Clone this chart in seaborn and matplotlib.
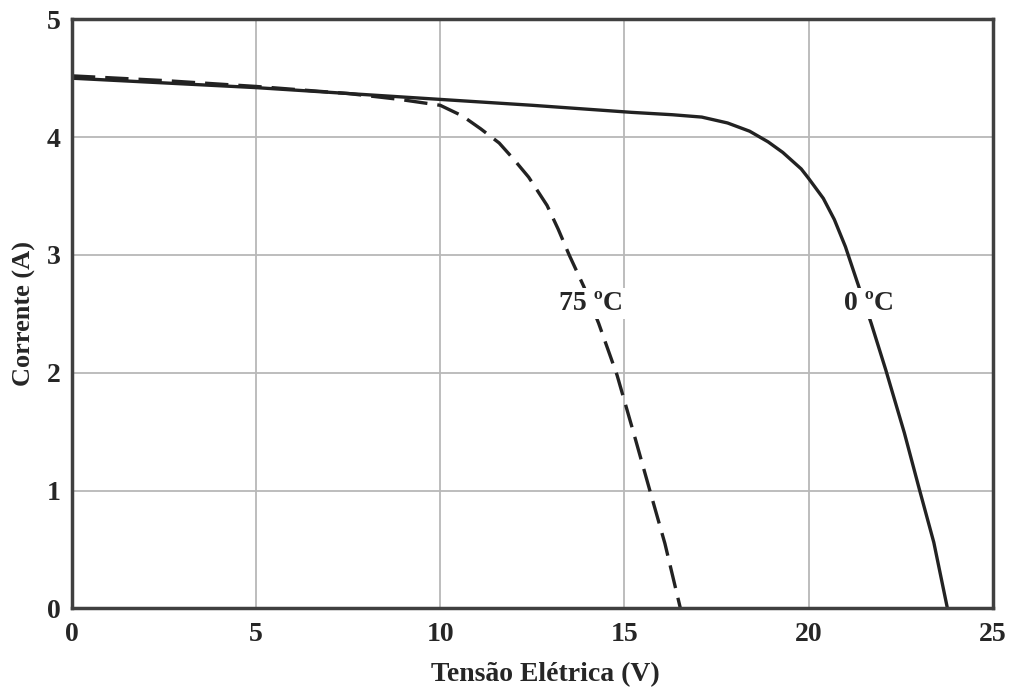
import matplotlib
matplotlib.use("Agg")
import matplotlib.pyplot as plt
import seaborn as sns
import pandas as pd

# 0 °C curve
v_0c = [0, 2.5, 5, 7.5, 10, 12.5, 15.2, 16.3, 17.1, 17.8, 18.4, 18.9, 19.3, 19.8, 20.0, 20.4, 20.7, 21.0, 21.3, 21.7, 22.1, 22.6, 23.0, 23.4, 23.77]
i_0c = [4.50, 4.46, 4.42, 4.37, 4.32, 4.27, 4.21, 4.19, 4.17, 4.12, 4.05, 3.96, 3.87, 3.73, 3.65, 3.48, 3.30, 3.07, 2.79, 2.42, 2.02, 1.49, 1.02, 0.56, 0.0]

# 75 °C curve
v_75c = [0, 2.5, 5, 7.5, 8.9, 10.0, 10.6, 11.1, 11.6, 12.0, 12.4, 12.9, 13.2, 13.5, 13.9, 14.3, 14.8, 15.25, 15.7, 16.1, 16.52]
i_75c = [4.52, 4.48, 4.43, 4.37, 4.32, 4.27, 4.18, 4.07, 3.95, 3.81, 3.66, 3.42, 3.22, 3.00, 2.73, 2.42, 1.98, 1.49, 0.99, 0.55, 0.0]

labels = ["0 ºC", "75 ºC"]
x_ticks = [0, 5, 10, 15, 20, 25]
y_ticks = [0, 1, 2, 3, 4, 5]

df = pd.concat([
    pd.DataFrame({"V": v_0c, "I": i_0c, "curve": labels[0]}),
    pd.DataFrame({"V": v_75c, "I": i_75c, "curve": labels[1]}),
])

sns.set_style("white")
plt.rcParams["font.family"] = ["Liberation Serif", "DejaVu Serif"]

fig = plt.figure(figsize=(10.13, 6.89), dpi=100)
ax = fig.add_axes([0.071, 0.117, 0.909, 0.855])

sns.lineplot(data=df, x="V", y="I", hue="curve", style="curve",
             palette={labels[0]: "#222222", labels[1]: "#222222"},
             dashes={labels[0]: "", labels[1]: (7, 3)},
             linewidth=2.4, sort=False, estimator=None, legend=False, ax=ax)

ax.set_xlim(0, 25)
ax.set_ylim(0, 5)
ax.set_xticks(x_ticks)
ax.set_yticks(y_ticks)
ax.grid(True, color="#b8b8b8", linewidth=1.3)
ax.set_axisbelow(True)
for s in ax.spines.values():
    s.set_color("#404040")
    s.set_linewidth(2.5)
ax.tick_params(axis="both", length=0, labelsize=20)
ax.tick_params(axis="y", pad=8)
ax.tick_params(axis="x", pad=10)
for t in ax.get_xticklabels() + ax.get_yticklabels():
    t.set_fontweight("bold")

ax.set_xlabel("Tensão Elétrica (V)", fontsize=20, fontweight="bold")
ax.xaxis.set_label_coords(0.514, -0.092)
ax.set_ylabel("Corrente (A)", fontsize=19, fontweight="bold", labelpad=8)

ax.text(14.08, 2.59, labels[1], fontsize=20, fontweight="bold", ha="center", va="center",
        bbox=dict(facecolor="white", edgecolor="none", pad=2))
ax.text(21.64, 2.59, labels[0], fontsize=20, fontweight="bold", ha="center", va="center",
        bbox=dict(facecolor="white", edgecolor="none", pad=2))

fig.savefig("out.png", dpi=100)
